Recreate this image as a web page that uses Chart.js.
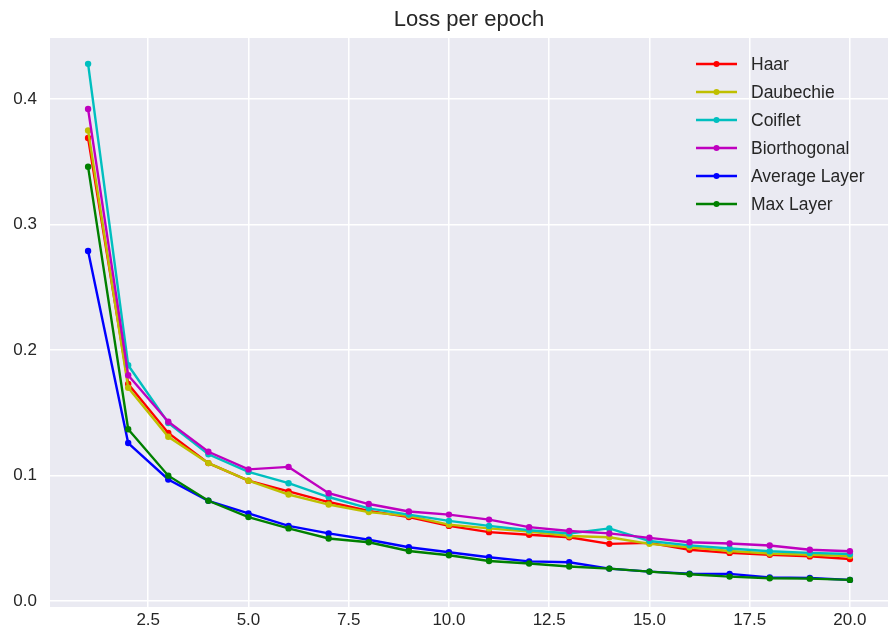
<!DOCTYPE html>
<html>
<head>
<meta charset="utf-8">
<script src="https://cdn.jsdelivr.net/npm/chart.js@4.4.0/dist/chart.umd.min.js"></script>
<style>
  html, body { margin: 0; padding: 0; background: #fff; }
  canvas { display: block; }
</style>
</head>
<body>
<canvas id="lossChart" width="889" height="637"></canvas>
<script>
const epochs = [1, 2, 3, 4, 5, 6, 7, 8, 9, 10, 11, 12, 13, 14, 15, 16, 17, 18, 19, 20];

const haar = [0.369, 0.173, 0.134, 0.110, 0.096, 0.0875, 0.079, 0.072, 0.067, 0.060, 0.055, 0.053, 0.051, 0.0457, 0.0465, 0.041, 0.0385, 0.037, 0.0357, 0.0336];
const daubechie = [0.375, 0.170, 0.131, 0.110, 0.096, 0.085, 0.077, 0.071, 0.068, 0.061, 0.058, 0.0554, 0.052, 0.051, 0.0457, 0.043, 0.040, 0.038, 0.037, 0.036];
const coiflet = [0.428, 0.188, 0.142, 0.117, 0.103, 0.094, 0.083, 0.074, 0.069, 0.064, 0.060, 0.0565, 0.054, 0.058, 0.048, 0.0445, 0.042, 0.0398, 0.0385, 0.0376];
const biorthogonal = [0.392, 0.180, 0.143, 0.119, 0.105, 0.107, 0.086, 0.0774, 0.0715, 0.069, 0.065, 0.059, 0.0559, 0.054, 0.0505, 0.047, 0.046, 0.0444, 0.041, 0.0398];
const averageLayer = [0.279, 0.126, 0.097, 0.080, 0.070, 0.060, 0.054, 0.049, 0.043, 0.039, 0.035, 0.0317, 0.031, 0.026, 0.0236, 0.022, 0.0218, 0.019, 0.0185, 0.017];
const maxLayer = [0.346, 0.137, 0.100, 0.080, 0.067, 0.058, 0.050, 0.047, 0.040, 0.0366, 0.032, 0.030, 0.0277, 0.026, 0.0236, 0.0215, 0.0196, 0.0183, 0.018, 0.017];

const xTicks = [2.5, 5.0, 7.5, 10.0, 12.5, 15.0, 17.5, 20.0];
const yTicks = [0.0, 0.1, 0.2, 0.3, 0.4];

const seriesNames = ['Haar', 'Daubechie', 'Coiflet', 'Biorthogonal', 'Average Layer', 'Max Layer'];
const seriesValues = [haar, daubechie, coiflet, biorthogonal, averageLayer, maxLayer];
const seriesColors = ['#ff0000', '#bfbf00', '#00bfbf', '#bf00bf', '#0000ff', '#008000'];
const chartTitle = 'Loss per epoch';

const FONT = "'Liberation Sans', Arial, sans-serif";
const TEXT = '#262626';

// fond gris du cadre, titre centré sur les axes, légende dans la zone du graphique
const seabornBg = {
    id: 'seabornBg',
    beforeDraw(chart) {
        const { ctx, chartArea: a } = chart;
        ctx.save();
        ctx.fillStyle = '#eaeaf2';
        ctx.fillRect(a.left, a.top, a.right - a.left, a.bottom - a.top);
        ctx.restore();
    },
    afterDraw(chart) {
        const { ctx, chartArea: a } = chart;
        ctx.save();
        ctx.font = '22px ' + FONT;
        ctx.fillStyle = TEXT;
        ctx.textAlign = 'center';
        ctx.textBaseline = 'middle';
        ctx.fillText(chartTitle, (a.left + a.right) / 2, 20);

        ctx.font = '17.5px ' + FONT;
        ctx.textAlign = 'left';
        seriesNames.forEach((name, i) => {
            const y = 64 + i * 28;
            ctx.strokeStyle = seriesColors[i];
            ctx.lineWidth = 2.4;
            ctx.beginPath();
            ctx.moveTo(696, y);
            ctx.lineTo(737, y);
            ctx.stroke();
            ctx.fillStyle = seriesColors[i];
            ctx.beginPath();
            ctx.arc(716.5, y, 3, 0, Math.PI * 2);
            ctx.fill();
            ctx.fillStyle = TEXT;
            ctx.fillText(name, 751, y + 1);
        });
        ctx.restore();
    }
};

new Chart(document.getElementById('lossChart'), {
    type: 'line',
    data: {
        datasets: seriesNames.map((name, i) => ({
            label: name,
            data: epochs.map((e, j) => ({ x: e, y: seriesValues[i][j] })),
            borderColor: seriesColors[i],
            backgroundColor: seriesColors[i],
            borderWidth: 2.4,
            pointRadius: 3.2,
            pointBorderWidth: 0,
            tension: 0,
            fill: false,
            order: seriesNames.length - i
        }))
    },
    options: {
        responsive: false,
        animation: false,
        layout: { autoPadding: false, padding: { top: 38, right: 1, left: 0, bottom: 0 } },
        plugins: {
            legend: { display: false },
            tooltip: { enabled: false },
            title: { display: false }
        },
        scales: {
            x: {
                type: 'linear',
                min: 0.05,
                max: 20.95,
                afterBuildTicks: (scale) => { scale.ticks = xTicks.map(v => ({ value: v })); },
                afterFit: (scale) => { scale.height = 30; scale.paddingLeft = 0; scale.paddingRight = 0; },
                border: { display: false },
                grid: { color: '#ffffff', lineWidth: 1.5, drawTicks: false },
                ticks: {
                    color: TEXT,
                    font: { family: FONT, size: 17 },
                    padding: 3,
                    maxRotation: 0,
                    callback: (v) => v.toFixed(1)
                }
            },
            y: {
                type: 'linear',
                min: -0.0046,
                max: 0.4486,
                afterBuildTicks: (scale) => { scale.ticks = yTicks.map(v => ({ value: v })); },
                afterFit: (scale) => { scale.width = 50; scale.paddingTop = 0; scale.paddingBottom = 0; },
                border: { display: false },
                grid: { color: '#ffffff', lineWidth: 1.5, drawTicks: false },
                ticks: {
                    color: TEXT,
                    font: { family: FONT, size: 17 },
                    padding: 13,
                    callback: (v) => v.toFixed(1)
                }
            }
        }
    },
    plugins: [seabornBg]
});
</script>
</body>
</html>
